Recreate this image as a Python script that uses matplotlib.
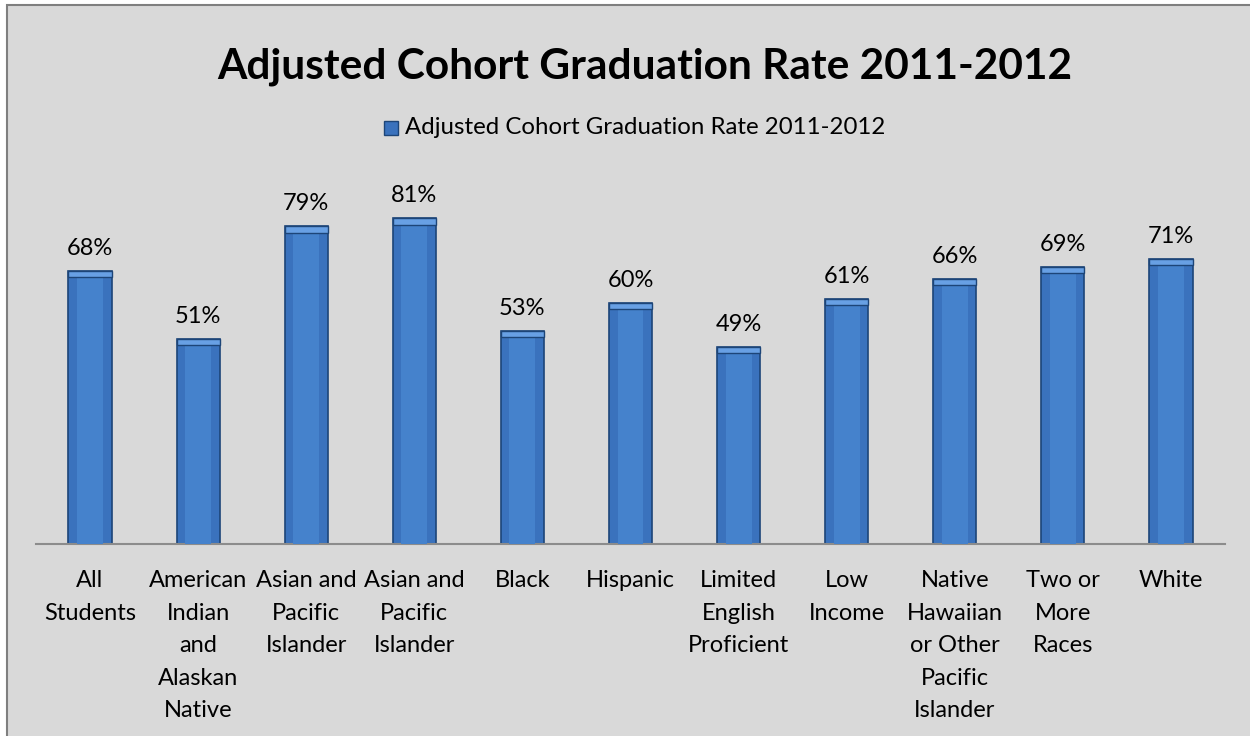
import matplotlib
matplotlib.use("Agg")
from matplotlib import pyplot as plt
from matplotlib.patches import Rectangle
import numpy as np

# data
categories = ["All\nStudents", "American\nIndian\nand\nAlaskan\nNative",
              "Asian and\nPacific\nIslander", "Asian and\nPacific\nIslander",
              "Black", "Hispanic", "Limited\nEnglish\nProficient",
              "Low\nIncome", "Native\nHawaiian\nor Other\nPacific\nIslander",
              "Two or\nMore\nRaces", "White"]
rates = [68, 51, 79, 81, 53, 60, 49, 61, 66, 69, 71]
series_name = "Adjusted Cohort Graduation Rate 2011-2012"
title = "Adjusted Cohort Graduation Rate 2011-2012"

plt.rcParams['font.family'] = ['Lato', 'DejaVu Sans']

fig = plt.figure(figsize=(12.5, 7.36), dpi=100)
fig.patch.set_facecolor("white")

# gray chart area with border
W, H = 1250, 736
bg = Rectangle((7 / W, -0.01), 1.0, 1 - 5 / H + 0.01, transform=fig.transFigure,
               facecolor="#d9d9d9", edgecolor="#7f7f7f", linewidth=1.5, zorder=-5)
fig.add_artist(bg)

ax = fig.add_axes([36 / W, 1 - 544 / H, (1225 - 36) / W, (544 - 142) / H])
ax.set_facecolor("none")
ax.set_zorder(2)

x = np.arange(len(categories))
ax.bar(x, rates, width=0.4, color="#3a72bd", edgecolor="#1d4578", linewidth=1.2, zorder=2)
# lighter centre band for a rounded look
ax.bar(x, rates, width=0.24, color="#4582cc", linewidth=0, zorder=3)
# bevel cap on top
ax.bar(x, [1.6] * len(x), bottom=[r - 1.6 for r in rates], width=0.4,
       color="#68a0e4", edgecolor="#1d4578", linewidth=1.0, zorder=4)

for xi, r in zip(x, rates):
    ax.text(xi, r + 3, f"{r}%", ha="center", va="bottom", fontsize=17, color="black")

ax.set_xlim(-0.5, len(x) - 0.5)
ax.set_ylim(0, 100)
ax.set_yticks([])
ax.set_xticks(x)
ax.set_xticklabels(categories, fontsize=17, linespacing=1.67)
ax.tick_params(axis="x", length=0, pad=19)
for s in ["top", "right", "left"]:
    ax.spines[s].set_visible(False)
ax.spines["bottom"].set_color("#8c8c8c")
ax.spines["bottom"].set_linewidth(1.5)

fig.text(645 / W, 1 - 67 / H, title, ha="center", va="center",
         fontsize=30.5, fontweight="bold")

# legend
fig.add_artist(Rectangle((384 / W, 1 - 135 / H), 14 / W, 14 / H, transform=fig.transFigure,
                         facecolor="#3a72bd", edgecolor="#1d4578", linewidth=1, zorder=3))
fig.text(405 / W, 1 - 128 / H, series_name, ha="left", va="center", fontsize=17.3)

fig.savefig("out.png", dpi=100, facecolor=fig.get_facecolor())
